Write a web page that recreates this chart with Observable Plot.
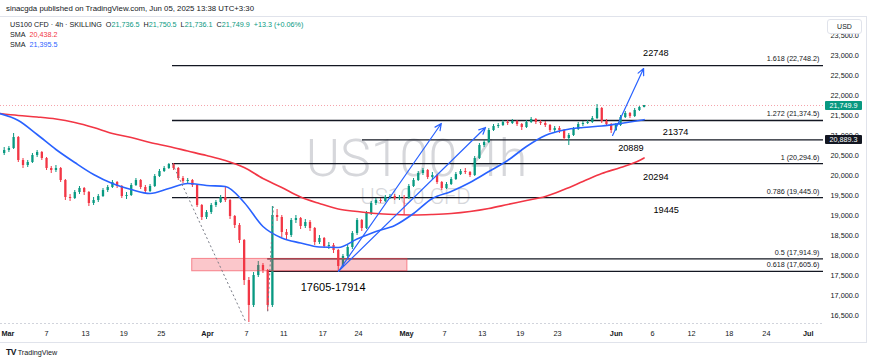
<!DOCTYPE html>
<html><head><meta charset="utf-8">
<script src="https://cdn.jsdelivr.net/npm/d3@7"></script>
<script src="https://cdn.jsdelivr.net/npm/@observablehq/plot@0.6"></script>
<style>
body{margin:0;background:#fff;}
#wrap{position:relative;width:870px;height:363px;overflow:hidden;font-family:"Liberation Sans",Arial,sans-serif;color:#131722;}
#frame{position:absolute;left:0;top:16px;width:866px;height:325px;border-top:1px solid #e0e3eb;border-bottom:1px solid #e0e3eb;border-right:1px solid #e0e3eb;z-index:0;}
#wrap svg{position:absolute;left:0;top:0;z-index:1;}
.ov{position:absolute;white-space:nowrap;line-height:1;z-index:2;}
.g{color:#089981}.r{color:#f23645}.b{color:#2962ff}
</style></head><body><div id="wrap"><div id="frame"></div></div>
<script>
// ---- data (x = half-trading-day bar index, Mar 3 = 0) ----
const startIdx = -1;
const firstOpen = 20550;
const closes = [20625,20675,20950,20375,20250,20325,20500,20575,20425,20175,20125,20175,19875,19450,19425,19575,19675,19575,19300,19375,19475,19625,19700,19825,19725,19475,19500,19750,19875,19700,19600,19725,19975,20100,20175,20275,20175,19925,19850,19875,19750,19250,18950,19075,19250,19325,19450,19375,18975,18750,18375,17375,16750,17500,17750,17625,16750,19000,18950,18575,18500,18875,18925,18725,18825,18675,18325,18425,18225,18250,18125,17725,17975,18200,18550,18875,18675,19050,19300,19375,19350,19450,19475,19425,19450,19425,19725,19875,20050,20125,19950,20000,19825,19675,19775,19900,20025,20100,20075,20000,20425,20750,20825,21125,21225,21250,21325,21300,21350,21275,21200,21325,21400,21325,21300,21250,21125,21175,21125,20925,21000,21150,21275,21300,21325,21425,21675,21350,21275,21125,21250,21450,21550,21475,21625,21700,21749.9];
const highs = [20700,20725,21050,20975,20425,20375,20550,20625,20600,20450,20225,20250,20200,19900,19525,19625,19725,19700,19600,19450,19525,19675,19750,19875,19850,19750,19575,19800,19925,19900,19750,19775,20025,20150,20225,20300,20300,20200,19975,19925,19900,19775,19275,19125,19300,19375,19500,19700,19400,19000,18800,18400,17450,17575,17850,17800,17650,19225,19150,19000,18650,18925,19000,18950,18900,18875,18700,18500,18450,18325,18300,18150,18025,18250,18600,18925,18900,19100,19350,19425,19425,19500,19525,19525,19500,19500,19775,19925,20100,20175,20150,20075,20025,19850,19825,19950,20075,20150,20175,20100,20475,20800,20875,21175,21275,21300,21375,21375,21400,21375,21300,21375,21450,21425,21375,21350,21275,21225,21225,21150,21050,21200,21325,21350,21375,21475,21775,21700,21400,21300,21300,21500,21600,21575,21675,21725,21750.5];
const lows = [20500,20575,20650,20325,20175,20200,20300,20450,20375,20125,20050,20075,19825,19375,19350,19400,19525,19500,19225,19250,19325,19450,19575,19675,19675,19425,19400,19475,19725,19650,19550,19575,19700,19950,20075,20150,20125,19875,19800,19800,19700,19200,18875,18900,19025,19200,19300,19325,18900,18675,18300,17250,16325,16700,17450,17550,16604,16700,18850,18450,18400,18450,18800,18650,18675,18600,18250,18275,18175,18150,18050,17606,17700,17925,18150,18500,18600,18650,19000,19250,19300,19325,19400,19375,19375,19000,19400,19700,19850,20000,19900,19900,19775,19625,19650,19750,19875,20000,20025,19950,19975,20400,20700,20800,21100,21175,21225,21250,21275,21225,21125,21175,21300,21275,21250,21200,21075,21075,21050,20875,20750,20975,21125,21225,21275,21300,21400,21300,21225,21050,21100,21225,21425,21425,21450,21600,21690];

const smaIdx = [-2,2,6,10,14,18,22,26,30,34,38,42,46,50,54,58,62,66,70,74,78,82,86,90,94,98,102,106,110,114,118,122,126,130,134,135];
const smaSlow = [21550,21500,21462,21412,21325,21200,21050,20950,20825,20725,20612,20500,20375,20200,19925,19700,19462,19300,19162,19100,19050,19025,19012,19025,19050,19100,19175,19275,19375,19475,19650,19850,20050,20200,20375,20438.2];
const smaFast = [21550,21375,21025,20650,20325,20025,19800,19650,19550,19675,19800,19750,19725,19325,18725,18437,18312,18212,18200,18412,18600,18750,19050,19425,19600,19825,20100,20375,20725,21000,21137,21200,21237,21300,21375,21395.5];

const fibPrices = [22748.2,21374.5,20889.3,20294.6,19445.0,17914.9,17605.6];
const fibStart  = [34.77,34.77,75.15,34.77,34.77,55.0,55.0];
const fibLabels = ["1.618 (22,748.2)","1.272 (21,374.5)","","1 (20,294.6)","0.786 (19,445.0)","0.5 (17,914.9)","0.618 (17,605.6)"];

const noteIdx = [137.5,141.7,132.2,137.5,139.7];
const notePrice = [23057,21083,20675,19958,19125];
const noteText = ["22748","21374","20889","20294","19445"];
const zoneNote = {k:68.9, p:17208, t:"17605-17914"};

const zone = {k1:38.96, k2:84.7, p1:17605.6, p2:17914.9};
const trendLines = [{k1:34.77,p1:20294.6,k2:50.4,p2:16324.6},{k1:55.0,p1:16604,k2:56.2,p2:19225}];
const arrows = [{k1:70.05,p1:17605,k2:91.9,p2:21300},{k1:70.05,p1:17605,k2:101.3,p2:21200},{k1:128.3,p1:21000,k2:134.9,p2:22675}];

const xTickIdx = [-0.2,8.0,16.3,24.4,32.4,42.2,50.5,58.4,66.7,74.3,84.5,92.6,100.6,108.7,116.6,129.1,136.8,145.1,153.1,161.0,169.9];
const xTickLabels = ["Mar","7","13","19","25","Apr","7","11","17","24","May","7","13","19","23","Jun","6","12","18","24","Jul"];
const monthLabels = ["Mar","Apr","May","Jun","Jul"];
const yTicks = [16500,17000,17500,18000,18500,19000,19500,20000,20500,21000,21500,22000,22500,23000,23500];

const lastClose = 21749.9, lastSlowSma = 20438.2, markedPrice = 20889.3;
const xDomain = [-1.785, 173.13];
const yDomain = [16300, 23950];

// ---- build ----
const up = "#089981", down = "#f23645";
const candles = closes.map((c,i)=>({k:i+startIdx, o:i===0?firstOpen:closes[i-1], h:highs[i], l:lows[i], c}));
const slow = smaIdx.map((k,i)=>({k, v:smaSlow[i]}));
const fast = smaIdx.map((k,i)=>({k, v:smaFast[i]}));
const fibs = fibPrices.map((p,i)=>({p, k:fibStart[i], label:fibLabels[i]}));
const notes = noteText.map((t,i)=>({t, k:noteIdx[i], p:notePrice[i]}));
const xt = xTickIdx.map((k,i)=>({k, t:xTickLabels[i], m:monthLabels.includes(xTickLabels[i])}));

const plot = Plot.plot({
  width:870, height:363, marginLeft:0, marginRight:47, marginTop:17, marginBottom:40,
  x:{domain:xDomain, axis:null},
  y:{domain:yDomain, axis:null},
  style:{background:"transparent", fontFamily:"Liberation Sans, Arial, sans-serif", color:"#131722", overflow:"visible"},
  marks:[
    Plot.text(["US100 4h"], {frameAnchor:"middle", text:d=>d, fontSize:52, fontFamily:"Roboto", fontWeight:300, fill:"#d6d7db", dx:4.5, dy:-11.6}),
    Plot.text(["US100 CFD"], {frameAnchor:"middle", text:d=>d, fontSize:22, fontFamily:"Roboto", fontWeight:300, fill:"#d6d7db", dx:3.5, dy:26}),
    Plot.ruleY([yDomain[0]], {x1:xDomain[0], x2:xDomain[1], stroke:"#d1d4dc", strokeDasharray:"2,2"}),
    Plot.ruleY([lastClose], {x1:xDomain[0], x2:xDomain[1], stroke:"#f5a3ab", strokeDasharray:"1,2"}),
    Plot.ruleY(fibs, {y:"p", x1:"k", x2:()=>xDomain[1], stroke:"#131722", strokeWidth:1.3}),
    Plot.ruleX(candles, {x:"k", y1:"l", y2:"h", stroke:d=>d.c>=d.o?up:down, strokeWidth:1}),
    Plot.ruleX(candles, {x:"k", y1:"o", y2:"c", stroke:d=>d.c>=d.o?up:down, strokeWidth:2.3}),
    Plot.rect([zone], {x1:"k1", x2:"k2", y1:"p1", y2:"p2", fill:"#f23645", fillOpacity:0.28, stroke:"#f23645", strokeOpacity:0.55}),
    Plot.line(slow, {x:"k", y:"v", stroke:"#f23645", strokeWidth:1.6, curve:"monotone-x", clip:true}),
    Plot.line(fast, {x:"k", y:"v", stroke:"#2962ff", strokeWidth:1.6, curve:"monotone-x", clip:true}),
    Plot.link(trendLines, {x1:"k1", y1:"p1", x2:"k2", y2:"p2", stroke:"#787b86", strokeWidth:1, strokeDasharray:"2,2.5"}),
    Plot.arrow(arrows, {x1:"k1", y1:"p1", x2:"k2", y2:"p2", stroke:"#2962ff", strokeWidth:1.2, headLength:9, headAngle:50}),
    Plot.text(fibs.filter(d=>d.label), {x:()=>xDomain[1], y:"p", text:"label", textAnchor:"end", dx:-4, dy:-6.5, fontSize:7.2, fill:"#131722"}),
    Plot.text(notes, {x:"k", y:"p", text:"t", fontSize:9.2, fill:"#000"}),
    Plot.text([zoneNote], {x:"k", y:"p", text:"t", fontSize:11, fill:"#000"}),
    Plot.text(xt.filter(d=>!d.m), {x:"k", frameAnchor:"bottom", dy:12, text:"t", fontSize:7.3, fill:"#131722"}),
    Plot.text(xt.filter(d=>d.m), {x:"k", frameAnchor:"bottom", dy:12, text:"t", fontSize:7.3, fontWeight:700, fill:"#131722"}),
    Plot.axisY(yTicks, {anchor:"right", tickSize:0, tickPadding:7, tickFormat:d3.format(",.1f"), fontSize:7.3, label:null})
  ]
});
const wrap = document.getElementById("wrap");
wrap.appendChild(plot);

// overlays (positions from the plot's own scale)
const ys = plot.scale("y");
function add(html, css){ const d=document.createElement("div"); d.className="ov"; d.innerHTML=html; Object.assign(d.style, css); wrap.appendChild(d); return d; }
function priceBox(v, bg){
  const y = ys.apply(v);
  add(d3.format(",.1f")(v), {left:"825px", top:(y-4.5)+"px", width:"37px", height:"9px", lineHeight:"9px", background:bg, color:"#fff", fontSize:"7.2px", textAlign:"center", borderRadius:"1px"});
}
priceBox(lastClose, up);
priceBox(markedPrice, "#131722");
add("USD", {left:"827px", top:"19px", width:"33px", height:"13px", lineHeight:"13px", border:"1px solid #e0e3eb", borderRadius:"3px", background:"#fff", fontSize:"7px", textAlign:"center"});
add("sinacgda published on TradingView.com, Jun 05, 2025 13:38 UTC+3:30", {left:"6px", top:"5px", fontSize:"7.8px"});
add('US100 CFD · 4h · SKILLING&nbsp;&nbsp;O<span class="g">21,736.5</span>&nbsp; H<span class="g">21,750.5</span>&nbsp; L<span class="g">21,736.1</span>&nbsp; C<span class="g">21,749.9</span>&nbsp; <span class="g">+13.3 (+0.06%)</span>', {left:"10px", top:"21px", fontSize:"7.2px"});
add('SMA&nbsp; <span class="r">'+d3.format(",.1f")(lastSlowSma)+'</span>', {left:"10px", top:"30.5px", fontSize:"7.2px"});
add('SMA&nbsp; <span class="b">'+d3.format(",.1f")(smaFast[smaFast.length-1])+'</span>', {left:"10px", top:"40.5px", fontSize:"7.2px"});
add('<b style="font-size:8.5px;font-family:Arial Black,Liberation Sans,Arial;letter-spacing:-0.5px">TV</b> TradingView', {left:"6px", top:"348px", fontSize:"7.2px", color:"#131722"});
</script></body></html>
